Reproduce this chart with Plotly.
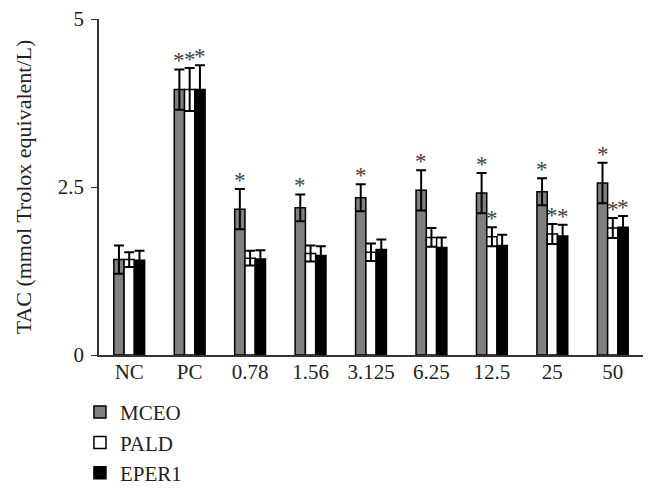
import plotly.graph_objects as go

categories = ["NC", "PC", "0.78", "1.56", "3.125", "6.25", "12.5", "25", "50"]

mceo_mean = [1.42, 3.95, 2.17, 2.19, 2.34, 2.45, 2.41, 2.43, 2.56]
mceo_sd = [0.21, 0.30, 0.30, 0.20, 0.20, 0.30, 0.30, 0.20, 0.30]
mceo_sig = ["", "*", "*", "*", "*", "*", "*", "*", "*"]

pald_mean = [1.42, 3.95, 1.44, 1.51, 1.53, 1.75, 1.76, 1.80, 1.89]
pald_sd = [0.11, 0.32, 0.11, 0.12, 0.13, 0.14, 0.14, 0.15, 0.15]
pald_sig = ["", "*", "", "", "", "", "*", "*", "*"]

eper1_mean = [1.41, 3.95, 1.43, 1.48, 1.57, 1.60, 1.63, 1.77, 1.90]
eper1_sd = [0.14, 0.36, 0.13, 0.14, 0.15, 0.15, 0.16, 0.17, 0.17]
eper1_sig = ["", "*", "", "", "", "", "", "*", "*"]

FONT = "Liberation Serif"
BARGAP = 0.49

series = [
    ("MCEO", mceo_mean, mceo_sd, mceo_sig, "#808080"),
    ("PALD", pald_mean, pald_sd, pald_sig, "#ffffff"),
    ("EPER1", eper1_mean, eper1_sd, eper1_sig, "#000000"),
]

fig = go.Figure()
bar_w = (1 - BARGAP) / len(series)
annotations = []
for i, (name, mean, sd, sig, color) in enumerate(series):
    fig.add_trace(
        go.Bar(
            x=categories,
            y=mean,
            name=name,
            marker=dict(color=color, line=dict(color="#000000", width=1.5)),
            error_y=dict(type="data", array=sd, visible=True, color="#000000", thickness=2, width=5),
        )
    )
    offset = (i - (len(series) - 1) / 2) * bar_w
    for j, s in enumerate(sig):
        if s:
            annotations.append(
                dict(
                    x=j + offset,
                    y=mean[j] + sd[j],
                    xref="x",
                    yref="y",
                    text=s,
                    showarrow=False,
                    yanchor="bottom",
                    yshift=-6,
                    font=dict(family=FONT, size=23, color="#404040"),
                )
            )

# page body keeps an 8px margin, so the figure is offset by that
fig.update_layout(
    width=657,
    height=493,
    barmode="group",
    bargap=BARGAP,
    bargroupgap=0,
    paper_bgcolor="white",
    plot_bgcolor="white",
    font=dict(family=FONT, size=21, color="#222222"),
    margin=dict(l=91, r=22, t=11, b=146, autoexpand=False),
    showlegend=True,
    legend=dict(
        orientation="v",
        x=-0.035,
        xanchor="left",
        y=-0.11,
        yanchor="top",
        font=dict(family=FONT, size=21, color="#222222"),
        tracegroupgap=0,
        itemclick=False,
    ),
    annotations=annotations,
)
fig.update_xaxes(
    showline=True,
    linecolor="#333333",
    linewidth=1.5,
    ticks="",
    showgrid=False,
    range=[-0.5, 8.5],
    ticklabelstandoff=-3,
)
fig.update_yaxes(
    range=[0, 5],
    tickvals=[0, 2.5, 5],
    ticktext=["0", "2.5", "5"],
    showline=True,
    linecolor="#333333",
    linewidth=1.5,
    ticks="outside",
    ticklen=6,
    tickcolor="#333333",
    showgrid=False,
    zeroline=False,
    ticklabelstandoff=3,
    ticklabeloverflow="allow",
    title=dict(text="TAC (mmol Trolox equivalent/L)", font=dict(family=FONT, size=22), standoff=20),
)

fig.write_html("out.html")
